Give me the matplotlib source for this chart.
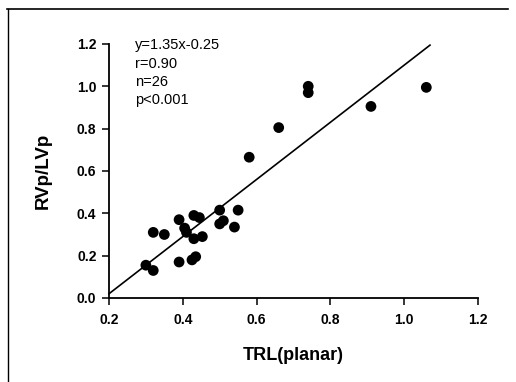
import matplotlib

matplotlib.use("Agg")

import matplotlib.pyplot as plt
import numpy as np
from matplotlib.lines import Line2D

# values
TRL_PLANAR = [0.30, 0.32, 0.32, 0.35, 0.39, 0.39, 0.405, 0.41, 0.425, 0.435,
              0.43, 0.43, 0.445, 0.453, 0.50, 0.50, 0.51, 0.54, 0.55, 0.58,
              0.66, 0.74, 0.74, 0.91, 1.06]
RVP_LVP = [0.155, 0.13, 0.31, 0.30, 0.37, 0.17, 0.33, 0.31, 0.18, 0.195,
           0.28, 0.39, 0.38, 0.29, 0.415, 0.35, 0.365, 0.335, 0.415, 0.665,
           0.805, 1.0, 0.97, 0.905, 0.995]
FIT_SLOPE = 1.35
FIT_INTERCEPT = -0.25
FIT_RANGE = (0.2, 1.07)
STATS_TEXT = ["y=1.35x-0.25", "r=0.90", "n=26", "p<0.001"]
X_TICKS = [0.2, 0.4, 0.6, 0.8, 1.0, 1.2]
Y_TICKS = [0.0, 0.2, 0.4, 0.6, 0.8, 1.0, 1.2]

plt.rcParams["font.family"] = ["Liberation Sans", "DejaVu Sans"]

fig = plt.figure(figsize=(5.16, 3.82), dpi=100)
ax = fig.add_axes([0.2112, 0.2199, 0.7151, 0.665])

ax.scatter(TRL_PLANAR, RVP_LVP, s=60, color="black", edgecolor="none",
           zorder=3, clip_on=False)
fx = np.array(FIT_RANGE)
ax.plot(fx, FIT_SLOPE * fx + FIT_INTERCEPT, color="black", linewidth=1.2,
        clip_on=False)

ax.set_xlim(0.2, 1.2)
ax.set_ylim(0.0, 1.2)
ax.set_xticks(X_TICKS)
ax.set_yticks(Y_TICKS)
ax.set_xticklabels([f"{v:.1f}" for v in X_TICKS], fontsize=10, fontweight="bold")
ax.set_yticklabels([f"{v:.1f}" for v in Y_TICKS], fontsize=10, fontweight="bold")
ax.tick_params(direction="out", length=5, width=1.1)
ax.tick_params(axis="x", pad=6)
ax.tick_params(axis="y", pad=4)

for side in ("top", "right"):
    ax.spines[side].set_visible(False)
for side in ("left", "bottom"):
    ax.spines[side].set_linewidth(1.3)

ax.set_xlabel("TRL(planar)", fontsize=13, fontweight="bold", labelpad=14)
ax.set_ylabel("RVp/LVp", fontsize=13.5, fontweight="bold", labelpad=18)

for i, line in enumerate(STATS_TEXT):
    ax.text(0.07, 0.995 - i * 0.072, line, transform=ax.transAxes,
            fontsize=10.5, va="center", ha="left")

# outer frame of the scanned figure (left and top only)
fig.add_artist(Line2D([7 / 516, 508 / 516], [1 - 8.5 / 382, 1 - 8.5 / 382],
                      color="black", linewidth=1.2))
fig.add_artist(Line2D([7.5 / 516, 7.5 / 516], [0, 1 - 8.5 / 382],
                      color="black", linewidth=1.0))

fig.savefig("out.png", dpi=100)
